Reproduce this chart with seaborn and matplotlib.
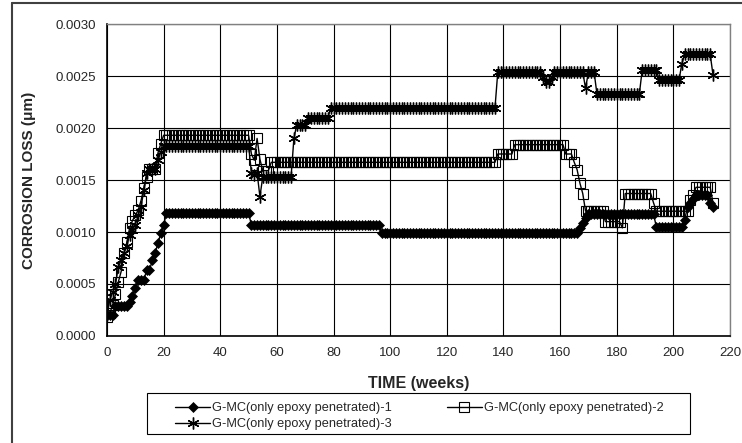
import numpy as np
import pandas as pd
import seaborn as sns
import matplotlib.pyplot as plt
from matplotlib.lines import Line2D
from matplotlib.patches import Rectangle
from matplotlib.ticker import FormatStrFormatter

#======Data (run-length: value, number of weeks)======
s1_vals = [0.00020, 0.00029, 0.00033, 0.00038, 0.00046, 0.00054, 0.00063, 0.00073,
           0.00080, 0.00089, 0.00099, 0.00107, 0.00118, 0.00107, 0.00099, 0.00104,
           0.00109, 0.00113, 0.00117, 0.00105, 0.00112, 0.00124, 0.00128, 0.00132,
           0.00136, 0.00128, 0.00124]
s1_runs = [3, 5, 1, 1, 1, 3, 2, 1,
           1, 1, 1, 1, 30, 46, 70, 1,
           1, 1, 24, 10, 1, 1, 1, 1,
           5, 1, 1]

s2_vals = [0.00018, 0.00022, 0.00030, 0.00040, 0.00052, 0.00062, 0.00080, 0.00090,
           0.00104, 0.00111, 0.00116, 0.00121, 0.00130, 0.00142, 0.00153, 0.00161,
           0.00176, 0.00185, 0.00193, 0.00175, 0.00169, 0.00190, 0.00170, 0.00159,
           0.00167, 0.00175, 0.00184, 0.00175, 0.00167, 0.00160, 0.00147, 0.00137,
           0.00120, 0.00110, 0.00104, 0.00137, 0.00128, 0.00120, 0.00131, 0.00136,
           0.00143, 0.00128]
s2_runs = [1, 1, 1, 1, 1, 1, 1, 1,
           1, 1, 1, 1, 1, 1, 1, 3,
           1, 1, 31, 1, 1, 1, 1, 3,
           80, 6, 18, 3, 1, 1, 1, 1,
           7, 6, 1, 10, 1, 12, 1, 1,
           6, 1]

s3_vals = [0.00020, 0.00035, 0.00042, 0.00050, 0.00066, 0.00073, 0.00080, 0.00087,
           0.00097, 0.00102, 0.00107, 0.00116, 0.00124, 0.00140, 0.00157, 0.00161,
           0.00169, 0.00177, 0.00183, 0.00157, 0.00155, 0.00157, 0.00134, 0.00153,
           0.00190, 0.00203, 0.00210, 0.00219, 0.00254, 0.00249, 0.00244, 0.00249,
           0.00254, 0.00238, 0.00254, 0.00233, 0.00256, 0.00246, 0.00262, 0.00271,
           0.00251]
s3_runs = [1, 1, 1, 1, 1, 1, 1, 1,
           1, 1, 1, 1, 1, 1, 1, 3,
           1, 1, 31, 1, 1, 1, 1, 11,
           1, 4, 8, 59, 16, 1, 2, 1,
           11, 1, 3, 16, 6, 8, 1, 10,
           1]

labels = ['G-MC(only epoxy penetrated)-1',
          'G-MC(only epoxy penetrated)-2',
          'G-MC(only epoxy penetrated)-3']

x_ticks = list(range(0, 221, 20))
y_ticks = [0.0, 0.0005, 0.0010, 0.0015, 0.0020, 0.0025, 0.0030]

def expand(vals, runs):
    y = np.repeat(vals, runs)
    return pd.DataFrame({'week': np.arange(len(y)), 'loss': y})

df1 = expand(s1_vals, s1_runs)
df2 = expand(s2_vals, s2_runs)
df3 = expand(s3_vals, s3_runs)

#======Style======
sns.set_style('white')
plt.rcParams['font.family'] = ['Liberation Sans', 'DejaVu Sans']

fig = plt.figure(figsize=(7.42, 4.43), dpi=100)
ax = fig.add_axes([107/742, 1-336/443, 623/742, 312/443])

sns.lineplot(data=df1, x='week', y='loss', ax=ax, color='black', lw=1,
             marker='D', markersize=5.5, markerfacecolor='black',
             markeredgecolor='black', markeredgewidth=0.5, label=labels[0])
sns.lineplot(data=df2, x='week', y='loss', ax=ax, color='black', lw=1,
             marker='s', markersize=6.5, markerfacecolor='none',
             markeredgecolor='black', markeredgewidth=0.8, label=labels[1])
sns.lineplot(data=df3, x='week', y='loss', ax=ax, color='black', lw=1,
             marker=(6, 2, 0), markersize=8.5, markeredgecolor='black',
             markeredgewidth=1.0, label=labels[2])

ax.set_xlim(0, 220)
ax.set_ylim(0, 0.003)
ax.set_xticks(x_ticks)
ax.set_yticks(y_ticks)
ax.yaxis.set_major_formatter(FormatStrFormatter('%.4f'))
ax.grid(True, color='black', lw=0.8)
ax.set_axisbelow(True)
ax.tick_params(axis='both', direction='out', length=4, width=1, color='black',
               labelsize=9.5, pad=4)
for side in ['top', 'right']:
    ax.spines[side].set_color('#808080')
    ax.spines[side].set_linewidth(1)
for side in ['left', 'bottom']:
    ax.spines[side].set_color('black')
    ax.spines[side].set_linewidth(1.2)

ax.set_xlabel('TIME (weeks)', fontsize=11.5, fontweight='bold')
ax.set_ylabel('CORROSION LOSS (\u03bcm)', fontsize=11, fontweight='bold')
ax.xaxis.set_label_coords(0.5, (336-376)/312)
ax.yaxis.set_label_coords((36-107)/623, 0.5)

#======Legend======
# row-major order: 1 and 2 on first row, 3 below 1
ax.get_legend().remove()
handles, labs = ax.get_legend_handles_labels()
order = [0, 2, 1]
fig.legend([handles[i] for i in order], [labs[i] for i in order],
           ncol=2, frameon=False, fontsize=9.2,
           loc='upper left', bbox_to_anchor=(169/742, 1-396/443),
           borderpad=0, handlelength=2.7, handletextpad=0.2,
           columnspacing=4.3, labelspacing=0.3)
fig.add_artist(Rectangle((147/742, 1-434/443), 543/742, 41/443,
                         transform=fig.transFigure, fill=False,
                         ec='black', lw=0.8))

# outer chart frame (top and left edges visible)
fig.add_artist(Line2D([12/742, 1], [1-3/443, 1-3/443], transform=fig.transFigure,
                      color='#404040', lw=1.5))
fig.add_artist(Line2D([12/742, 12/742], [0, 1-3/443], transform=fig.transFigure,
                      color='#404040', lw=1.5))

fig.savefig('out.png', dpi=100)
